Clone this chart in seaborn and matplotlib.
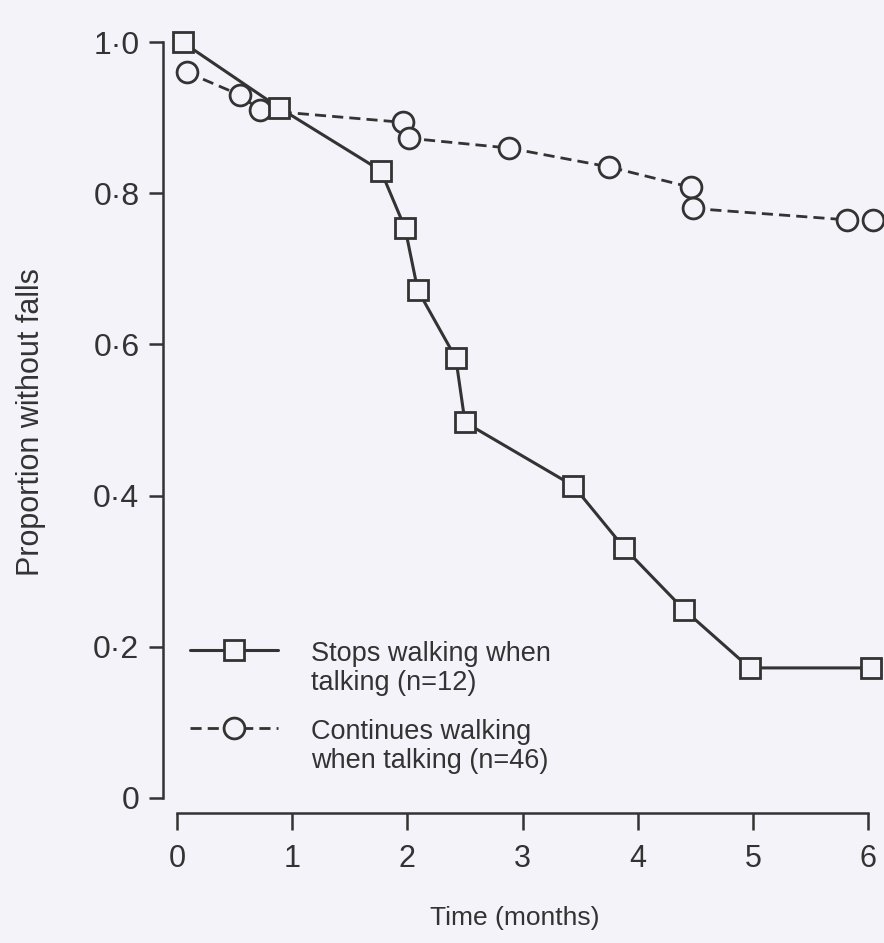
import matplotlib
matplotlib.use("Agg")
import matplotlib.pyplot as plt
import seaborn as sns

# Kaplan-Meier style data
stops_time = [0.05, 0.89, 1.77, 1.98, 2.09, 2.42, 2.50, 3.44, 3.88, 4.40, 4.97, 6.02]
stops_prop = [1.00, 0.913, 0.83, 0.754, 0.672, 0.582, 0.497, 0.413, 0.331, 0.249, 0.172, 0.172]

cont_time = [0.09, 0.55, 0.72, 1.96, 2.01, 2.88, 3.75, 4.46, 4.48, 5.81, 6.04]
cont_prop = [0.96, 0.93, 0.91, 0.894, 0.873, 0.86, 0.835, 0.808, 0.78, 0.765, 0.765]

stops_label = "Stops walking when\ntalking (n=12)"
cont_label = "Continues walking\nwhen talking (n=46)"

y_ticks = [0, 0.2, 0.4, 0.6, 0.8, 1.0]
y_ticklabels = ["0", "0·2", "0·4", "0·6", "0·8", "1·0"]
x_ticks = [0, 1, 2, 3, 4, 5, 6]

bg = "#f3f3f9"
ink = "#333333"

sns.set_style("ticks")
plt.rcParams["font.family"] = ["Liberation Sans", "DejaVu Sans"]
plt.rcParams["text.color"] = ink
plt.rcParams["axes.labelcolor"] = ink
plt.rcParams["xtick.color"] = ink
plt.rcParams["ytick.color"] = ink

fig = plt.figure(figsize=(8.84, 9.43), dpi=100, facecolor=bg)
ax = fig.add_axes([163 / 884, 1 - 813 / 943, (880 - 163) / 884, (813 - 12) / 943])
ax.set_facecolor(bg)

# dashed series first so the squares sit on top
sns.lineplot(x=cont_time, y=cont_prop, ax=ax, color=ink, linewidth=2.0,
             linestyle=(0, (4, 2.2)), marker="o", markersize=15,
             markerfacecolor=bg, markeredgecolor=ink, markeredgewidth=2.0,
             label=cont_label, sort=False, estimator=None, clip_on=False)
sns.lineplot(x=stops_time, y=stops_prop, ax=ax, color=ink, linewidth=2.2,
             marker="s", markersize=15,
             markerfacecolor=bg, markeredgecolor=ink, markeredgewidth=2.0,
             label=stops_label, sort=False, estimator=None, clip_on=False)

ax.set_xlim(-0.12, 6.1)
ax.set_ylim(-0.02, 1.04)
ax.set_xticks(x_ticks)
ax.set_yticks(y_ticks)
ax.set_yticklabels(y_ticklabels)

for s in ["top", "right"]:
    ax.spines[s].set_visible(False)
ax.spines["left"].set_bounds(0, 1)
ax.spines["bottom"].set_bounds(0, 6)
for s in ["left", "bottom"]:
    ax.spines[s].set_color(ink)
    ax.spines[s].set_linewidth(1.8)

ax.tick_params(axis="y", direction="out", length=10, width=1.8, pad=7, labelsize=23)
ax.tick_params(axis="x", direction="out", length=12, width=1.8, pad=10, labelsize=22)

ax.set_xlabel("Time (months)", fontsize=19)
ax.xaxis.set_label_coords(0.491, -0.116)
ax.xaxis.label.set_va("top")
ax.set_ylabel("Proportion without falls", fontsize=22)
ax.yaxis.set_label_coords(-0.163, 0.488)

handles, labels = ax.get_legend_handles_labels()
leg = ax.legend(handles[::-1], labels[::-1], loc="upper left",
                bbox_to_anchor=(0.0377, 0.215), frameon=False,
                fontsize=19.5, handlelength=3.26, handletextpad=1.19,
                borderpad=0, borderaxespad=0, labelspacing=0.85)
for t in leg.get_texts():
    t.set_linespacing(1.15)
# put each legend sample beside the first line of its label
for col in leg._legend_handle_box.get_children():
    for item in col.get_children():
        item.align = "top"

fig.savefig("out.png", dpi=100, facecolor=bg)
